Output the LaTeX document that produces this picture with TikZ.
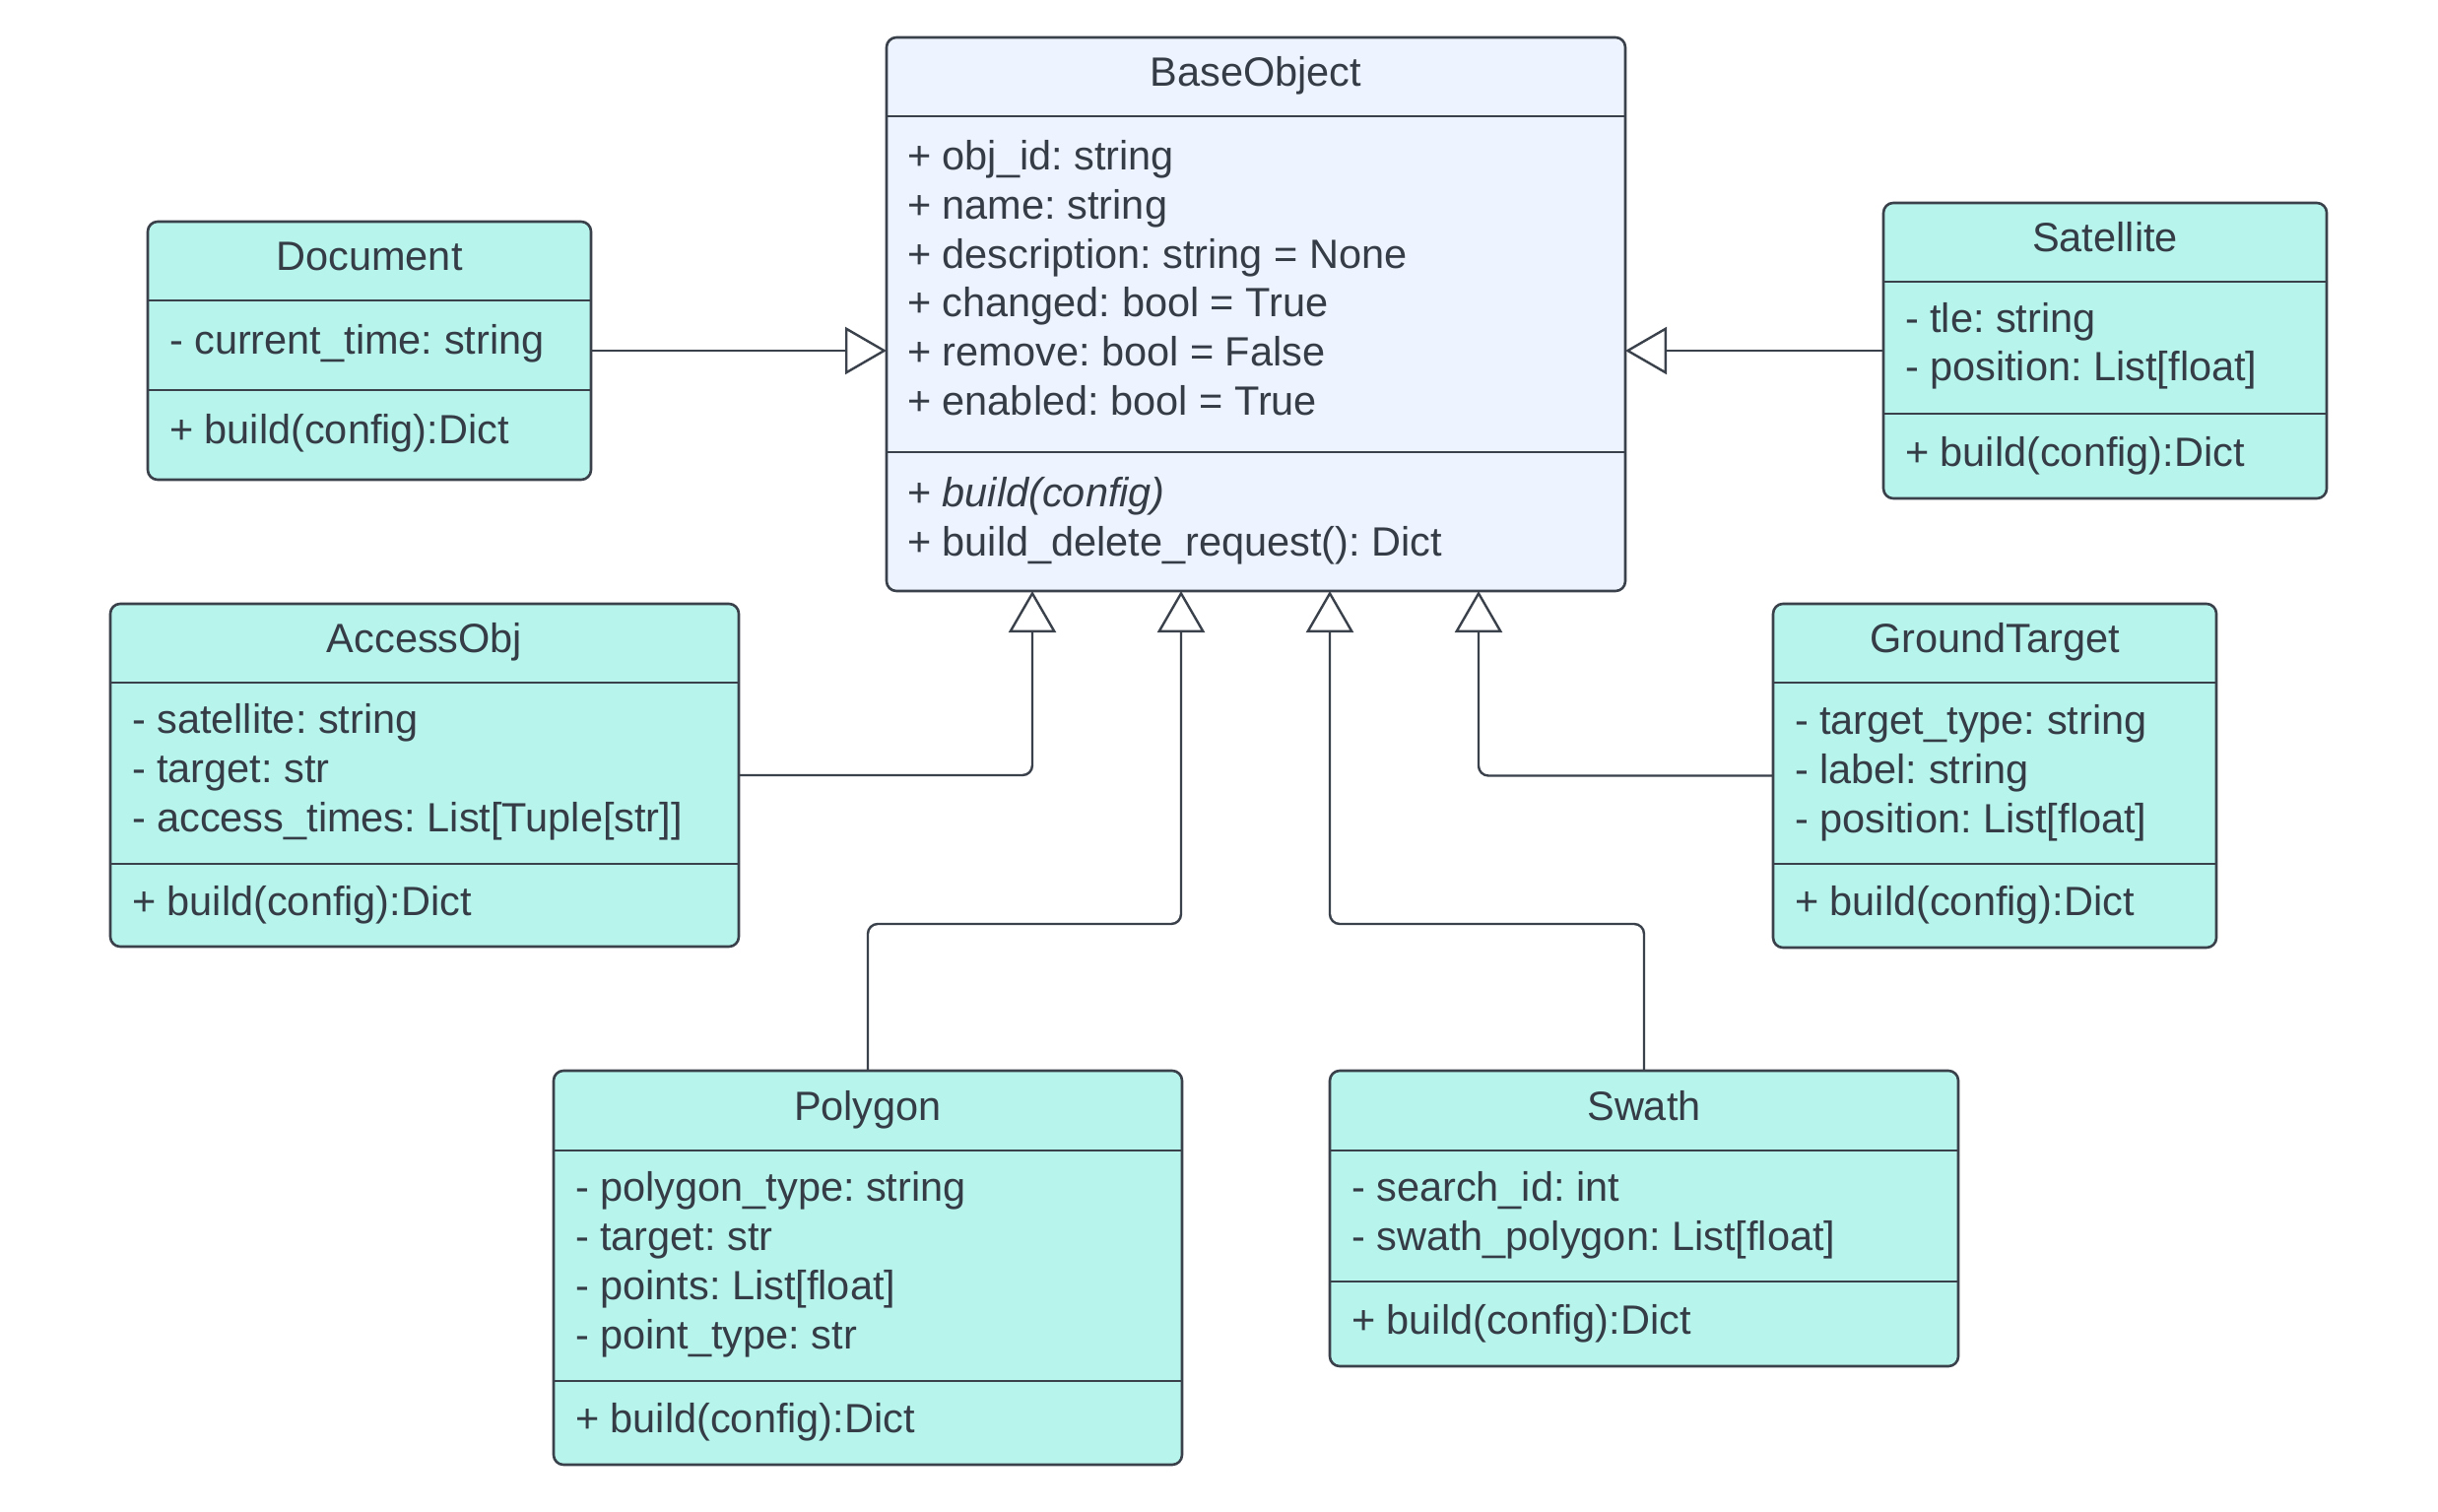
\documentclass[tikz,border=0pt]{standalone}
\usepackage{fontspec}
\setmainfont{Liberation Sans}
\usetikzlibrary{arrows.meta}
\frenchspacing
\definecolor{teal}{HTML}{B6F4EC}
\definecolor{basefill}{HTML}{EDF4FF}
\definecolor{ink}{HTML}{3A414A}
\definecolor{txtc}{HTML}{353C46}
\tikzset{
  classbox/.style={draw=ink, line width=2.6pt, rounded corners=10pt, fill=teal, outer sep=0pt, inner sep=0pt, anchor=north west},
  basebox/.style={classbox, fill=basefill},
  divline/.style={draw=ink, line width=2.6pt},
  txt/.style={text=txtc, inner sep=0pt, outer sep=0pt, font=\fontsize{41.5}{50}\selectfont\frenchspacing},
  attr/.style={txt, anchor=base west},
  ttl/.style={txt, anchor=base},
  conn/.style={draw=ink, line width=2.4pt, rounded corners=10pt, -{Triangle[open, length=42pt, width=48pt, line width=2.4pt]}},
}
\begin{document}
\begin{tikzpicture}[x=1pt, y=-1pt]
\useasboundingbox (0,0) rectangle (2475,1534);
\fill[white] (0,0) rectangle (2475,1534);

% BaseObject
\node[basebox, minimum width=750pt, minimum height=562pt] (base) at (900,38) {};
\draw[divline] (900,118) -- (1650,118);
\draw[divline] (900,459) -- (1650,459);
\node[ttl] (base-t) at (1275,87) {BaseObject};
\node[attr] (base-a1) at (921,172) {+ obj\_id: string};
\node[attr] (base-a2) at (921,222) {+ name: string};
\node[attr] (base-a3) at (921,272) {+ description: string = None};
\node[attr] (base-a4) at (921,321) {+ changed: bool = True};
\node[attr] (base-a5) at (921,371) {+ remove: bool = False};
\node[attr] (base-a6) at (921,421) {+ enabled: bool = True};
\node[attr] (base-m1) at (921,514) {+ \textit{build(config)}};
\node[attr] (base-m2) at (921,564) {+ build\_delete\_request(): Dict};

% Document
\node[classbox, minimum width=450pt, minimum height=262pt] (doc) at (150,225) {};
\draw[divline] (150,305) -- (600,305);
\draw[divline] (150,396) -- (600,396);
\node[ttl] (doc-t) at (375,274) {Document};
\node[attr] (doc-a1) at (172,359) {- current\_time: string};
\node[attr] (doc-m1) at (172,450) {+ build(config):Dict};

% Satellite
\node[classbox, minimum width=450pt, minimum height=300pt] (sat) at (1912,206) {};
\draw[divline] (1912,286) -- (2362,286);
\draw[divline] (1912,420) -- (2362,420);
\node[ttl] (sat-t) at (2137,255) {Satellite};
\node[attr] (sat-a1) at (1934,337) {- tle: string};
\node[attr] (sat-a2) at (1934,386) {- position: List[float]};
\node[attr] (sat-m1) at (1934,473) {+ build(config):Dict};

% AccessObj
\node[classbox, minimum width=638pt, minimum height=348pt] (acc) at (112,613) {};
\draw[divline] (112,693) -- (750,693);
\draw[divline] (112,877) -- (750,877);
\node[ttl] (acc-t) at (431,662) {AccessObj};
\node[attr] (acc-a1) at (134,744) {- satellite: string};
\node[attr] (acc-a2) at (134,794) {- target: str};
\node[attr] (acc-a3) at (134,844) {- access\_times: List[Tuple[str]]};
\node[attr] (acc-m1) at (134,929) {+ build(config):Dict};

% GroundTarget
\node[classbox, minimum width=450pt, minimum height=349pt] (gt) at (1800,613) {};
\draw[divline] (1800,693) -- (2250,693);
\draw[divline] (1800,877) -- (2250,877);
\node[ttl] (gt-t) at (2025,662) {GroundTarget};
\node[attr] (gt-a1) at (1822,745) {- target\_type: string};
\node[attr] (gt-a2) at (1822,795) {- label: string};
\node[attr] (gt-a3) at (1822,845) {- position: List[float]};
\node[attr] (gt-m1) at (1822,929) {+ build(config):Dict};

% Polygon
\node[classbox, minimum width=638pt, minimum height=400pt] (poly) at (562,1087) {};
\draw[divline] (562,1168) -- (1200,1168);
\draw[divline] (562,1402) -- (1200,1402);
\node[ttl] (poly-t) at (881,1137) {Polygon};
\node[attr] (poly-a1) at (584,1219) {- polygon\_type: string};
\node[attr] (poly-a2) at (584,1269) {- target: str};
\node[attr] (poly-a3) at (584,1319) {- points: List[float]};
\node[attr] (poly-a4) at (584,1369) {- point\_type: str};
\node[attr] (poly-m1) at (584,1454) {+ build(config):Dict};

% Swath
\node[classbox, minimum width=638pt, minimum height=300pt] (swath) at (1350,1087) {};
\draw[divline] (1350,1168) -- (1988,1168);
\draw[divline] (1350,1301) -- (1988,1301);
\node[ttl] (swath-t) at (1669,1137) {Swath};
\node[attr] (swath-a1) at (1372,1219) {- search\_id: int};
\node[attr] (swath-a2) at (1372,1269) {- swath\_polygon: List[float]};
\node[attr] (swath-m1) at (1372,1354) {+ build(config):Dict};

% attachment points on BaseObject's bottom edge
\path (base.south west) ++(148,0) coordinate (b1);
\path (base.south west) ++(299,0) coordinate (b2);
\path (base.south west) ++(450,0) coordinate (b3);
\path (base.south west) ++(601,0) coordinate (b4);

% connectors
\draw[conn] (doc.east) -- (base.west |- doc.east);
\draw[conn] (sat.west) -- (base.east |- sat.west);
\draw[conn] (acc.east) -| (b1);
\draw[conn] (poly.north) -- ++(0,-149) -| (b2);
\draw[conn] (swath.north) -- ++(0,-149) -| (b3);
\draw[conn] (gt.west) -| (b4);
\end{tikzpicture}
\end{document}
